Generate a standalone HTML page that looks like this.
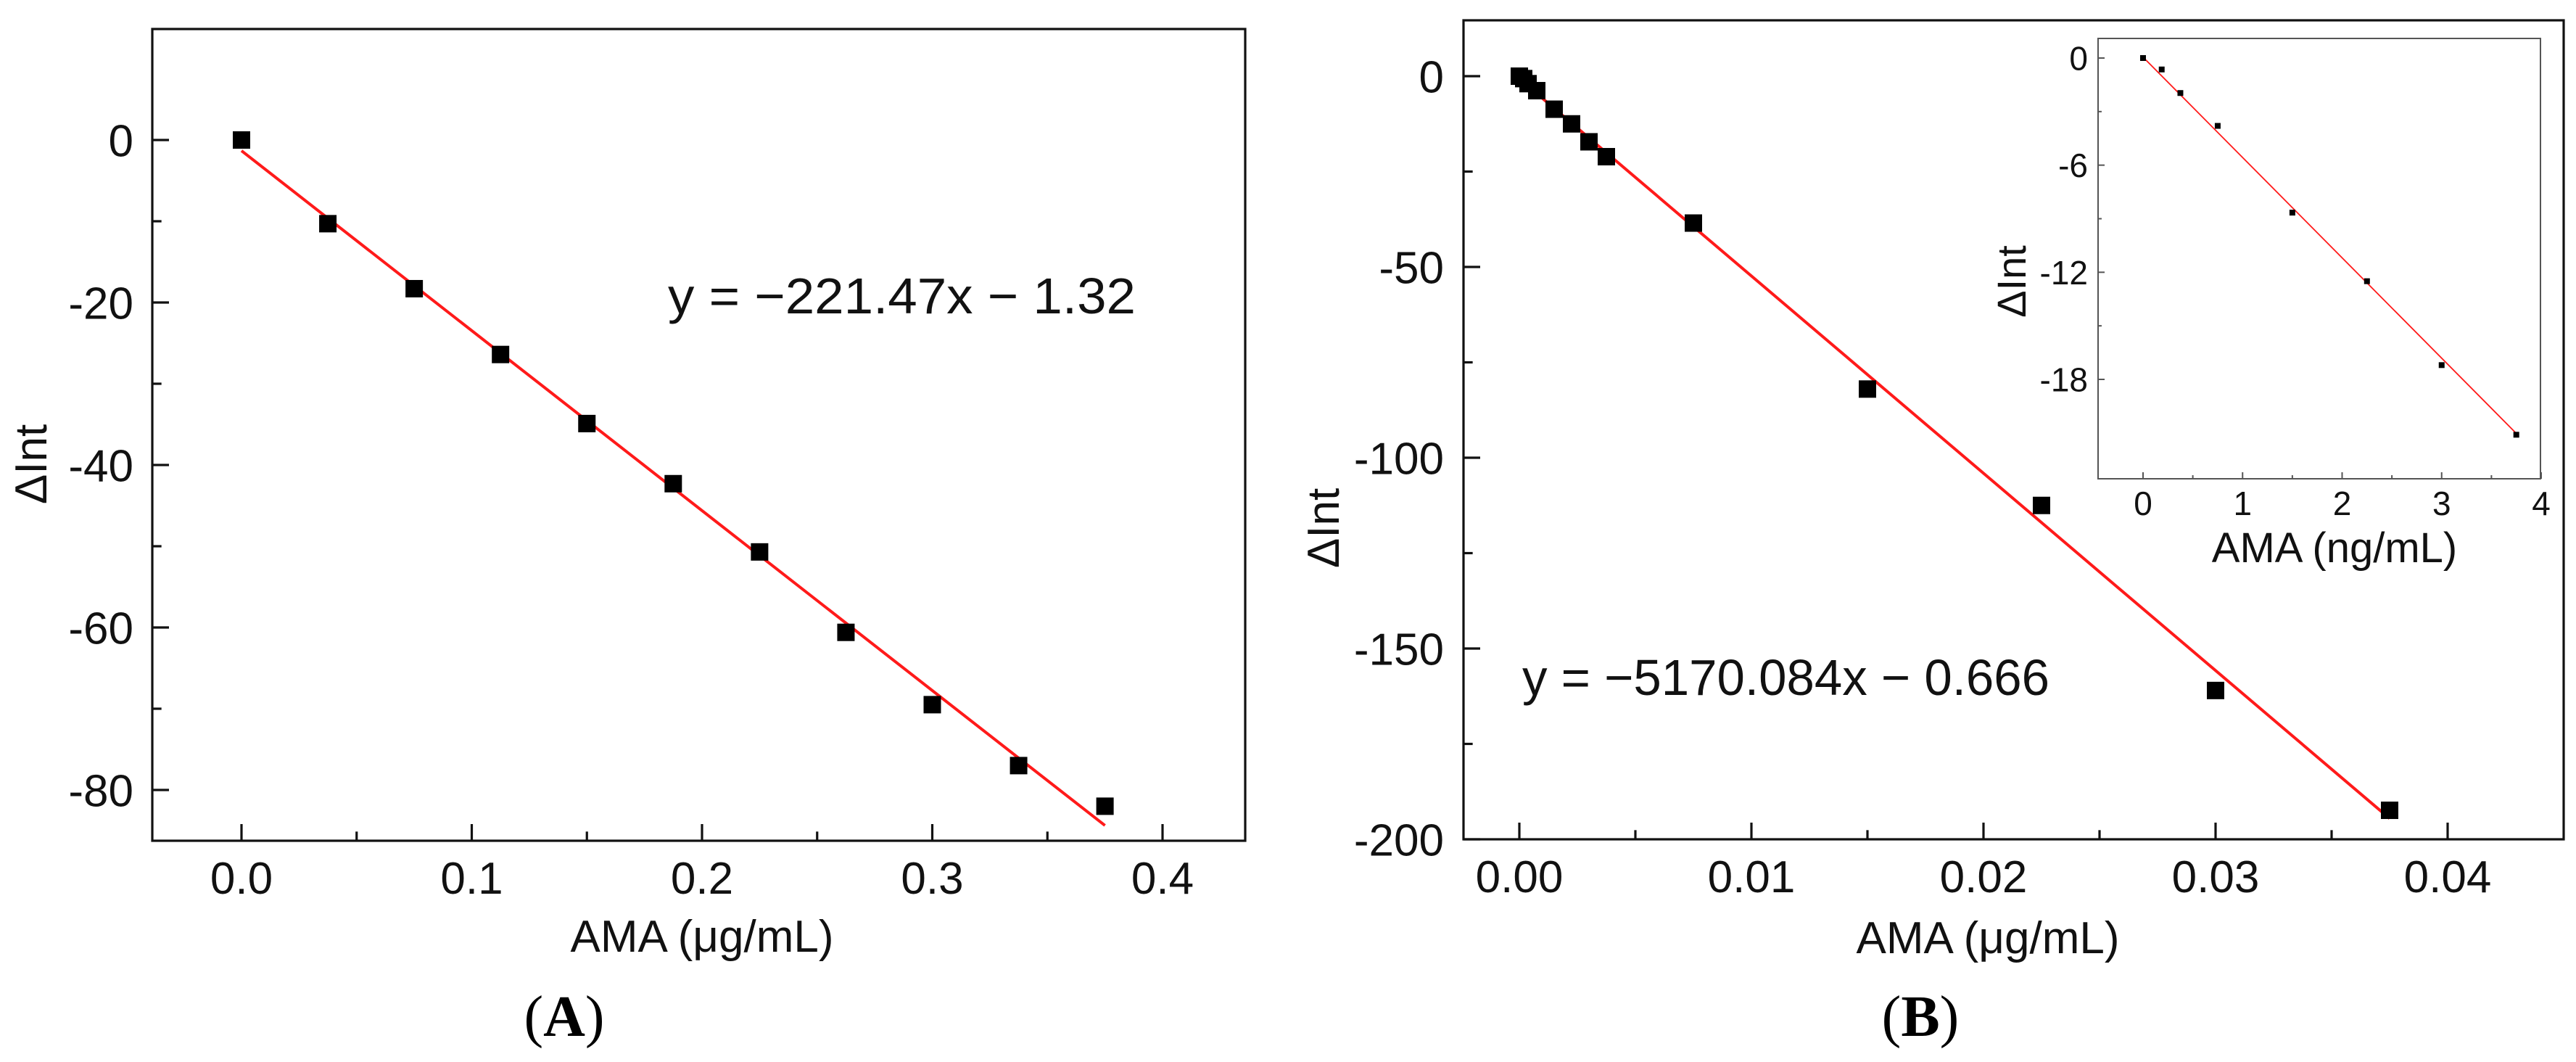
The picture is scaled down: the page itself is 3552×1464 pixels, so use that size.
<!DOCTYPE html>
<html><head><meta charset="utf-8"><style>
html,body{margin:0;padding:0;background:#fff;}
svg{display:block;font-family:"Liberation Sans",Arial,sans-serif;}
</style></head><body>
<svg id="fig" width="3552" height="1464" viewBox="0 0 3552 1464"></svg>
<script>
// Panel A data
const aX = [0, 0.0375, 0.075, 0.1125, 0.15, 0.1875, 0.225, 0.2625, 0.3, 0.3375, 0.375];
const aY = [0, -10.3, -18.3, -26.4, -34.9, -42.3, -50.7, -60.6, -69.5, -77.0, -82.0];
const aFit = [-221.47, -1.32];
const aFitRange = [0, 0.375];
const aXTicks = [0.0, 0.1, 0.2, 0.3, 0.4];
const aXTickLabels = ["0.0", "0.1", "0.2", "0.3", "0.4"];
const aYTicks = [0, -20, -40, -60, -80];
const aYTickLabels = ["0", "-20", "-40", "-60", "-80"];
// Panel B data
const bX = [0, 0.0001875, 0.000375, 0.00075, 0.0015, 0.00225, 0.003, 0.00375, 0.0075, 0.015, 0.0225, 0.03, 0.0375];
const bY = [0, -0.64, -1.96, -3.8, -8.66, -12.5, -17.2, -21.1, -38.5, -82.0, -112.5, -161.0, -192.4];
const bFit = [-5170.084, -0.666];
const bFitRange = [0, 0.0375];
const bXTicks = [0, 0.01, 0.02, 0.03, 0.04];
const bXTickLabels = ["0.00", "0.01", "0.02", "0.03", "0.04"];
const bYTicks = [0, -50, -100, -150, -200];
const bYTickLabels = ["0", "-50", "-100", "-150", "-200"];
// Inset data (ng/mL)
const iX = [0, 0.1875, 0.375, 0.75, 1.5, 2.25, 3, 3.75];
const iY = [0, -0.64, -1.96, -3.8, -8.66, -12.5, -17.2, -21.1];
const iFit = [-5.62, 0.05];
const iFitRange = [0, 3.75];
const iXTicks = [0, 1, 2, 3, 4];
const iXTickLabels = ["0", "1", "2", "3", "4"];
const iYTicks = [0, -6, -12, -18];
const iYTickLabels = ["0", "-6", "-12", "-18"];

const NS = "http://www.w3.org/2000/svg";
const svg = document.getElementById("fig");
function mk(tag, attrs, parent) {
  const e = document.createElementNS(NS, tag);
  for (const k in attrs) e.setAttribute(k, attrs[k]);
  (parent || svg).appendChild(e);
  return e;
}
function lin(d0, d1, r0, r1) { return v => r0 + (v - d0) * (r1 - r0) / (d1 - d0); }

function panel(cfg) {
  const g = mk("g", {});
  
  
  const sx = lin(cfg.xd[0], cfg.xd[1], cfg.xr[0], cfg.xr[1]);
  const sy = lin(cfg.yd[0], cfg.yd[1], cfg.yr[0], cfg.yr[1]);
  const L = cfg.box[0], T = cfg.box[1], R = cfg.box[2], B = cfg.box[3];
  const fl = mk("line", {x1: sx(cfg.fitRange[0]), y1: sy(cfg.fit[0]*cfg.fitRange[0]+cfg.fit[1]),
    x2: sx(cfg.fitRange[1]), y2: sy(cfg.fit[0]*cfg.fitRange[1]+cfg.fit[1]),
    stroke: "#ff1a1a", "stroke-width": cfg.lw}, g);
  
  
  for (let i = 0; i < cfg.xs.length; i++) {
    const r = mk("rect", {x: sx(cfg.xs[i]) - cfg.ms/2, y: sy(cfg.ys[i]) - cfg.ms/2, width: cfg.ms, height: cfg.ms, fill: "#000"}, g);
    
    
  }
  const fr = mk("rect", {x: L, y: T, width: R-L, height: B-T, fill: "none", stroke: cfg.fc, "stroke-width": cfg.fw}, g);
  
  
  for (let i = 0; i < cfg.xt.length; i++) {
    const x = sx(cfg.xt[i]);
    mk("line", {x1: x, y1: B, x2: x, y2: B - cfg.tl, stroke: cfg.fc, "stroke-width": cfg.fw}, g);
    const t = mk("text", {x: x, y: cfg.xlY, "font-size": cfg.fs, "text-anchor": "middle", fill: "#111"}, g);
    t.textContent = cfg.xtl[i];
    
    
    if (i < cfg.xt.length - 1) {
      const xm = sx((cfg.xt[i] + cfg.xt[i+1]) / 2);
      if (xm < R) mk("line", {x1: xm, y1: B, x2: xm, y2: B - cfg.tl*0.55, stroke: cfg.fc, "stroke-width": cfg.fw}, g);
    }
  }
  for (let i = 0; i < cfg.yt.length; i++) {
    const y = sy(cfg.yt[i]);
    mk("line", {x1: L, y1: y, x2: L + cfg.tl, y2: y, stroke: cfg.fc, "stroke-width": cfg.fw}, g);
    const t = mk("text", {x: cfg.ylX, y: y + cfg.fs*0.36, "font-size": cfg.fs, "text-anchor": "end", fill: "#111"}, g);
    t.textContent = cfg.ytl[i];
    
    
  }
  const step = cfg.yt[0] - cfg.yt[1];
  for (let v = cfg.yt[0] + step/2; v > cfg.yd[1]; v -= step) {
    if (v >= cfg.yd[0]) continue;
    const y = sy(v);
    if (y > T + 2 && y < B - 2) mk("line", {x1: L, y1: y, x2: L + cfg.tl*0.55, y2: y, stroke: cfg.fc, "stroke-width": cfg.fw}, g);
  }
  return {sx, sy};
}

panel({name: "panel-a", xs: aX, ys: aY, fit: aFit, fitRange: aFitRange,
  xd: [0, 0.4], xr: [333, 1603], yd: [0, -80], yr: [193, 1089], yt: aYTicks, ytl: aYTickLabels,
  xt: aXTicks, xtl: aXTickLabels, box: [210, 40, 1717, 1159], ms: 24, lw: 4, fc: "#111", fw: 3.2,
  tl: 23, fs: 62, xlY: 1232, ylX: 184});
panel({name: "panel-b", xs: bX, ys: bY, fit: bFit, fitRange: bFitRange,
  xd: [0, 0.04], xr: [2095, 3375], yd: [0, -200], yr: [105, 1157], yt: bYTicks, ytl: bYTickLabels,
  xt: bXTicks, xtl: bXTickLabels, box: [2018, 28, 3535, 1157], ms: 24, lw: 4, fc: "#111", fw: 3.2,
  tl: 23, fs: 62, xlY: 1230, ylX: 1991});
const ib = mk("rect", {x: 2893, y: 53, width: 610, height: 607, fill: "#fff"});


panel({name: "inset", xs: iX, ys: iY, fit: iFit, fitRange: iFitRange,
  xd: [0, 4], xr: [2955, 3504], yd: [0, -18], yr: [80, 523], yt: iYTicks, ytl: iYTickLabels,
  xt: iXTicks, xtl: iXTickLabels, box: [2893, 53, 3503, 660], ms: 8, lw: 1.8, fc: "#555", fw: 2,
  tl: 9, fs: 46, xlY: 710, ylX: 2879});

function txt(s, attrs, name) {
  const t = mk("text", attrs);
  t.textContent = s;
  
  
  return t;
}
txt("y = \u2212221.47x \u2212 1.32", {x: 921, y: 432, "font-size": 70, textLength: 645, lengthAdjust: "spacingAndGlyphs", fill: "#111"}, "equation-a");
txt("y = \u22125170.084x \u2212 0.666", {x: 2099, y: 958, "font-size": 70, textLength: 727, lengthAdjust: "spacingAndGlyphs", fill: "#111"}, "equation-b");
txt("AMA (\u03bcg/mL)", {x: 968, y: 1312, "font-size": 62, "text-anchor": "middle", fill: "#111"}, "x-axis-title-a");
txt("AMA (\u03bcg/mL)", {x: 2741, y: 1314, "font-size": 62, "text-anchor": "middle", fill: "#111"}, "x-axis-title-b");
txt("AMA (ng/mL)", {x: 3219, y: 775, "font-size": 58, "text-anchor": "middle", fill: "#111"}, "inset-x-axis-title");
txt("\u0394Int", {x: 0, y: 0, "font-size": 62, "text-anchor": "middle", fill: "#111", transform: "translate(64,640) rotate(-90)"}, "y-axis-title-a");
txt("\u0394Int", {x: 0, y: 0, "font-size": 62, "text-anchor": "middle", fill: "#111", transform: "translate(1846,728) rotate(-90)"}, "y-axis-title-b");
txt("\u0394Int", {x: 0, y: 0, "font-size": 56, "text-anchor": "middle", fill: "#111", transform: "translate(2793,388) rotate(-90)"}, "inset-y-axis-title");
const la = txt("(", {x: 778, y: 1428, "font-size": 80, "font-family": "Liberation Serif, serif", "text-anchor": "middle", fill: "#000"}, "panel-label-a");
la.innerHTML = '(<tspan font-weight="bold">A</tspan>)';
const lb = txt("(", {x: 2648, y: 1428, "font-size": 80, "font-family": "Liberation Serif, serif", "text-anchor": "middle", fill: "#000"}, "panel-label-b");
lb.innerHTML = '(<tspan font-weight="bold">B</tspan>)';
</script>
</body></html>
